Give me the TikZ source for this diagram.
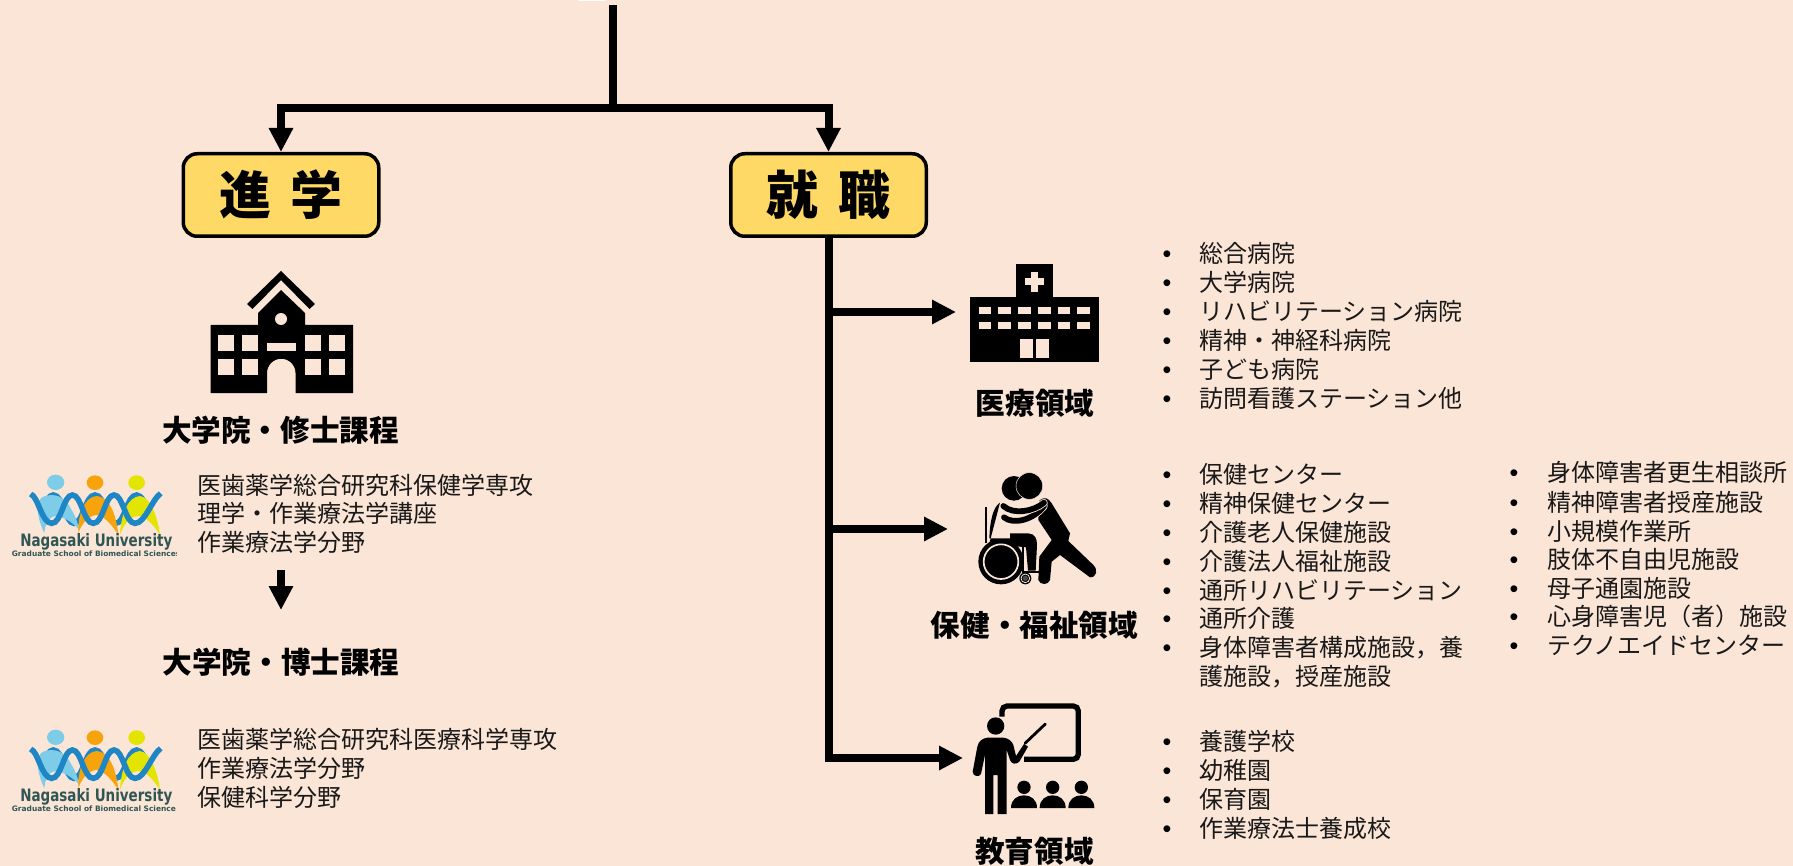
\documentclass[tikz,border=0pt]{standalone}
\usepackage{fontspec}
\setmainfont{Noto Sans CJK JP}
\newfontfamily\latfont{Liberation Sans}
\newfontfamily\logofont{DejaVu Sans}
\usetikzlibrary{arrows.meta}
\definecolor{bgc}{HTML}{FBE5D6}
\definecolor{boxc}{HTML}{FFD966}
\definecolor{wavec}{HTML}{1F86C6}
\definecolor{lbluec}{HTML}{7DCDE8}
\definecolor{orgc}{HTML}{F7A30C}
\definecolor{yelc}{HTML}{E3E500}
\definecolor{logotext}{HTML}{2F5655}
\tikzset{
  conn/.style={line width=8pt,black},
  arr/.style={conn,-{Triangle[length=24pt,width=23pt]}},
  headbox/.style={draw=black,line width=3.5pt,fill=boxc,rounded corners=14pt,minimum width=195.5pt,minimum height=82.5pt,inner sep=0pt,font=\fontsize{52}{52}\selectfont\bfseries},
  lst/.style={anchor=base west,inner sep=0pt,font=\fontsize{24}{24}\selectfont,text=black!90},
  blt/.style={anchor=base,inner sep=0pt,font=\fontsize{25}{25}\selectfont\latfont},
  ttl/.style={anchor=base,inner sep=0pt,font=\fontsize{29.6}{29.6}\selectfont\bfseries},
  hole/.style={fill=bgc,draw=none},
  ink/.style={fill=black,draw=none}
}
\newcommand{\lineat}[4]{\node[lst] (#1) at (#2,#3+9) {#4};}
\newcommand{\bulletline}[5]{\node[blt] (#1b) at (#2,#4+9) {•};\node[lst] (#1) at (#3,#4+9) {#5};}
\newcommand{\logomark}[3]{%
\begin{scope}[shift={(10,#1)},x=.33333pt,y=-.33333pt]
 \draw[wavec,line width=5.6pt] (100,132) .. controls (110,95) and (115,75) .. (130,75) .. controls (160,75) and (165,160) .. (192,160) .. controls (220,160) and (225,75) .. (255,75) .. controls (285,75) and (290,160) .. (317,160) .. controls (345,160) and (350,75) .. (380,75) .. controls (395,75) and (405,100) .. (420,130);
 \fill[lbluec] (137,37) ellipse [x radius=26,y radius=23];
 \fill[orgc] (255,38) ellipse [x radius=25,y radius=22];
 \fill[yelc] (380,38) ellipse [x radius=25,y radius=22];
 \fill[lbluec] (103,190) .. controls (75,130) and (80,88) .. (100,80) .. controls (130,68) and (165,78) .. (182,115) .. controls (195,135) and (203,155) .. (207,178) .. controls (180,150) and (150,135) .. (128,140) .. controls (112,148) and (105,165) .. (103,190) -- cycle;
 \fill[orgc] (205,190) .. controls (203,130) and (225,80) .. (260,78) .. controls (297,80) and (318,130) .. (325,194) .. controls (305,165) and (285,138) .. (258,135) .. controls (235,138) and (215,160) .. (205,190) -- cycle;
 \fill[yelc] (330,194) .. controls (333,130) and (355,80) .. (390,78) .. controls (422,82) and (442,140) .. (450,194) .. controls (430,165) and (410,140) .. (385,138) .. controls (358,140) and (340,165) .. (330,194) -- cycle;
 \draw[wavec,line width=5.6pt] (62,72) .. controls (85,80) and (95,160) .. (125,160) .. controls (155,160) and (160,75) .. (187,75) .. controls (215,75) and (220,160) .. (250,160) .. controls (280,160) and (285,75) .. (312,75) .. controls (340,75) and (345,160) .. (375,160) .. controls (405,160) and (425,90) .. (452,70);
 \node[inner sep=0pt,text=logotext,font=\logofont\bfseries] (#2a) at (259,217) {\resizebox{152pt}{13pt}{Nagasaki University}};
 \clip (0,230) rectangle (501,270);
 \node[anchor=west,inner sep=0pt,text=logotext,font=\logofont\bfseries] (#2b) at (5,250) {\resizebox{164pt}{!}{Graduate School of Biomedical Science#3}};
\end{scope}}
\begin{document}
\begin{tikzpicture}[x=1pt,y=-1pt]
\fill[bgc] (0,0) rectangle (1793,866);
\useasboundingbox (0,0) rectangle (1793,866);
\fill[white] (578,0) rectangle (605,1.2);

% heads
\node[headbox] (jin) at (281,195) {進\hspace{20pt}学};
\node[headbox] (shu) at (828.5,195) {就\hspace{20pt}職};

% tree
\coordinate (top) at (613,5);
\coordinate (fork) at (613,108);
\coordinate (tip1) at (956,312);
\coordinate (tip2) at (948,529);
\coordinate (tip3) at (963,758);
\draw[conn] (top) -- ([yshift=-4pt]fork);
\draw[arr] ([xshift=4pt]fork) -| (jin.north);
\draw[arr] ([xshift=-4pt]fork) -| (shu.north);
\draw[arr] (shu.south) |- (tip3);
\draw[arr] (shu.south |- tip1) -- (tip1);
\draw[arr] (shu.south |- tip2) -- (tip2);

% school icon
\fill[ink] (281,271) -- (315,304) -- (309.5,309) -- (281,280) -- (252.5,309) -- (247,304) -- cycle;
\fill[ink] (281,290) -- (305,313) -- (305,325) -- (353,325) -- (353,393) -- (295.5,393) -- (295.5,373) arc[start angle=0,end angle=-180,radius=14.25] -- (267,393) -- (210.5,393) -- (210.5,325) -- (258,325) -- (258,313) -- cycle;
\fill[hole] (281,319) circle[radius=6];
\foreach \xa in {218,242,305,329} \foreach \ya in {335,359} \fill[hole] (\xa,\ya) rectangle (\xa+16,\ya+16);
\fill[hole] (267,343) rectangle (295.5,351);

\node[ttl] (master) at (280.5,441) {大学院・修士課程};
\logomark{470}{loga}{\rlap{s}}
\lineat{m1}{197}{485}{医歯薬学総合研究科保健学専攻}
\lineat{m2}{197}{513}{理学・作業療法学講座}
\lineat{m3}{197}{542}{作業療法学分野}

\coordinate (dnA) at (281,570);
\coordinate (dnB) at (281,610);
\draw[arr] (dnA) -- (dnB);

\node[ttl] (doctor) at (281,673) {大学院・博士課程};
\logomark{725}{logb}{}
\lineat{d1}{197}{739}{医歯薬学総合研究科医療科学専攻}
\lineat{d2}{197}{768}{作業療法学分野}
\lineat{d3}{197}{797}{保健科学分野}

% hospital icon
\begin{scope}[shift={(900,230)},x=.33333pt,y=-.33333pt]
 \fill[ink] (347,103) rectangle (460,205);
 \fill[ink] (210,200) rectangle (596,395);
 \fill[hole] (393,126) rectangle (414,185);
 \fill[hole] (374,145) rectangle (433,166);
 \foreach \ua in {236,295,355,414,473,532} {\fill[hole] (\ua,230) rectangle (\ua+38,252);\fill[hole] (\ua,275) rectangle (\ua+38,298);}
 \fill[hole] (360,328) rectangle (398,383);
 \fill[hole] (409,328) rectangle (447,383);
\end{scope}
\node[ttl] (lab1) at (1035,414) {医療領域};

% wheelchair icon
\begin{scope}[shift={(900,440)},x=.33333pt,y=-.33333pt]
 \fill[ink] (256,200) rectangle (262,310);
 \fill[ink] (367,300) rectangle (373,395);
 \fill[ink] (367,393) rectangle (418,399);
 \fill[ink] (300,188) .. controls (280,200) and (270,240) .. (268,295) -- (330,295) -- (330,280) -- (385,280) .. controls (405,282) and (411,295) .. (411,315) -- (407,392) -- (384,392) -- (378,322) -- (340,318) -- (268,310) -- cycle;
 \fill[ink] (303,365) circle[radius=68];
 \draw[bgc,line width=1.7pt] (303,365) circle[radius=52];
 \fill[ink] (376,415) circle[radius=18];
 \draw[bgc,line width=.8pt] (376,415) circle[radius=13];
 \fill[black!70] (376,415) circle[radius=8];
 \fill[ink] (342,145) circle[radius=37];
 \fill[ink] (418,182) .. controls (435,168) and (445,175) .. (455,190) -- (510,280) -- (505,303) -- (580,375) .. controls (595,390) and (590,412) .. (570,412) -- (480,345) -- (455,365) -- (450,420) .. controls (445,436) and (420,436) .. (415,420) -- (418,350) -- (455,300) -- (415,240) -- cycle;
 \draw[bgc,line width=7.5pt,line cap=round] (312,232) .. controls (340,255) and (400,240) .. (432,198);
 \draw[black,line width=5.8pt,line cap=round] (312,232) .. controls (340,255) and (400,240) .. (432,198);
 \draw[bgc,line width=7.5pt,line cap=round] (310,198) .. controls (340,225) and (400,215) .. (432,188);
 \draw[black,line width=5.8pt,line cap=round] (310,198) .. controls (340,225) and (400,215) .. (432,188);
 \filldraw[fill=black,draw=bgc,line width=.5pt] (388,138) circle[radius=40];
\end{scope}
\node[ttl] (lab2) at (1034.5,636.5) {保健・福祉領域};

% teacher icon
\begin{scope}[shift={(900,670)},x=.33333pt,y=-.33333pt]
 \draw[black,line width=5.3pt,rounded corners=5pt] (306,140) -- (306,108) -- (535,108) -- (535,268) -- (372,268);
 \fill[ink] (287,168) circle[radius=26];
 \fill[ink] (262,203) -- (310,203) .. controls (325,205) and (335,212) .. (340,225) -- (348,258) -- (372,222) -- (384,230) -- (358,275) .. controls (348,285) and (334,282) .. (330,270) -- (320,240) -- (320,432) -- (293,432) -- (293,315) -- (280,315) -- (280,432) -- (255,432) -- (255,255) -- (243,312) .. controls (238,322) and (218,320) .. (218,305) -- (232,230) .. controls (236,212) and (248,205) .. (262,203) -- cycle;
 \draw[black,line width=2.8pt,line cap=round] (375,220) -- (436,162);
 \foreach \ua in {372,458,544} {
  \fill[ink] (\ua,352) circle[radius=20];
  \fill[ink] (\ua-39,414) .. controls (\ua-39,388) and (\ua-20,376) .. (\ua,376) .. controls (\ua+20,376) and (\ua+39,388) .. (\ua+39,414) -- cycle;
 }
\end{scope}
\node[ttl] (lab3) at (1034.5,862) {教育領域};

% lists
\bulletline{a1}{1167}{1199}{254}{総合病院}
\bulletline{a2}{1167}{1199}{283}{大学病院}
\bulletline{a3}{1167}{1199}{312}{リハビリテーション病院}
\bulletline{a4}{1167}{1199}{340}{精神・神経科病院}
\bulletline{a5}{1167}{1199}{369}{子ども病院}
\bulletline{a6}{1167}{1199}{398}{訪問看護ステーション他}

\bulletline{b1}{1167}{1199}{474}{保健センター}
\bulletline{b2}{1167}{1199}{503}{精神保健センター}
\bulletline{b3}{1167}{1199}{532}{介護老人保健施設}
\bulletline{b4}{1167}{1199}{561}{介護法人福祉施設}
\bulletline{b5}{1167}{1199}{590}{通所リハビリテーション}
\bulletline{b6}{1167}{1199}{618}{通所介護}
\bulletline{b7}{1167}{1199}{647}{身体障害者構成施設，養}
\lineat{b8}{1199}{676}{護施設，授産施設}

\bulletline{c1}{1514}{1547}{472}{身体障害者更生相談所}
\bulletline{c2}{1514}{1547}{502}{精神障害者授産施設}
\bulletline{c3}{1514}{1547}{531}{小規模作業所}
\bulletline{c4}{1514}{1547}{559}{肢体不自由児施設}
\bulletline{c5}{1514}{1547}{588}{母子通園施設}
\bulletline{c6}{1514}{1547}{616}{心身障害児（者）施設}
\bulletline{c7}{1514}{1547}{645}{テクノエイドセンター}

\bulletline{e1}{1167}{1199}{741}{養護学校}
\bulletline{e2}{1167}{1199}{770}{幼稚園}
\bulletline{e3}{1167}{1199}{799}{保育園}
\bulletline{e4}{1167}{1199}{828}{作業療法士養成校}
\end{tikzpicture}
\end{document}
